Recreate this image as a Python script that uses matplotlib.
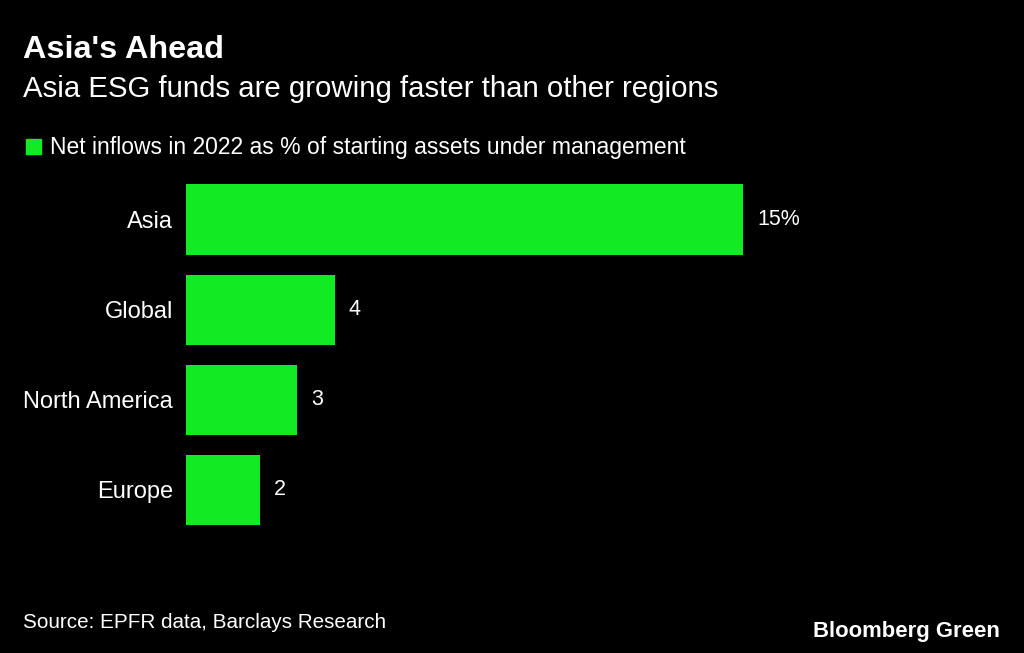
import matplotlib
matplotlib.use("Agg")
import matplotlib.pyplot as plt
from matplotlib.patches import Rectangle

# data
regions = ['Asia', 'Global', 'North America', 'Europe']
inflows = [15, 4, 3, 2]
value_labels = ['15%', '4', '3', '2']

green = '#12eb23'
plt.rcParams['font.family'] = ['Liberation Sans', 'DejaVu Sans']

W, H = 1024, 653
fig = plt.figure(figsize=(W / 100, H / 100), dpi=100, facecolor='black')

# axes placed so that 0 -> 186px and 15 -> 743px
ax = fig.add_axes([186 / W, (H - 535) / H, 557 / W, 360.5 / H])
ax.set_facecolor('black')
ypos = list(range(len(regions)))
ax.barh(ypos, inflows, height=0.78, color=green)
ax.set_xlim(0, 15)
ax.set_ylim(len(regions) - 0.5, -0.5)
for s in ax.spines.values():
    s.set_visible(False)
ax.set_xticks([])
ax.set_yticks(ypos)
ax.set_yticklabels(regions, color='white', fontsize=17)
ax.tick_params(axis='y', length=0, pad=9.4)

# value labels, baseline a little below the bar centre
for y, v, lab in zip(ypos, inflows, value_labels):
    ax.annotate(lab, (v, y), xytext=(10, -4), textcoords='offset points',
                va='baseline', ha='left', color='white', fontsize=15.5,
                annotation_clip=False)

# titles
fig.text(23 / W, 1 - 58 / H, "Asia's Ahead", color='white', fontsize=23.3,
         fontweight='bold', va='baseline', ha='left')
fig.text(23 / W, 1 - 97 / H, "Asia ESG funds are growing faster than other regions",
         color='white', fontsize=21.2, va='baseline', ha='left')

# legend
fig.patches.append(Rectangle((26 / W, 1 - 154 / H), 15 / W, 15 / H,
                             transform=fig.transFigure, color=green))
fig.text(50 / W, 1 - 154 / H, "Net inflows in 2022 as % of starting assets under management",
         color='white', fontsize=16.5, va='baseline', ha='left')

# footer
fig.text(23 / W, 1 - 628 / H, "Source: EPFR data, Barclays Research",
         color='white', fontsize=14.9, va='baseline', ha='left')
fig.text(1000 / W, 1 - 637 / H, "Bloomberg Green", color='white', fontsize=15.9,
         fontweight='bold', va='baseline', ha='right')

fig.savefig('out.png', dpi=100, facecolor='black')
